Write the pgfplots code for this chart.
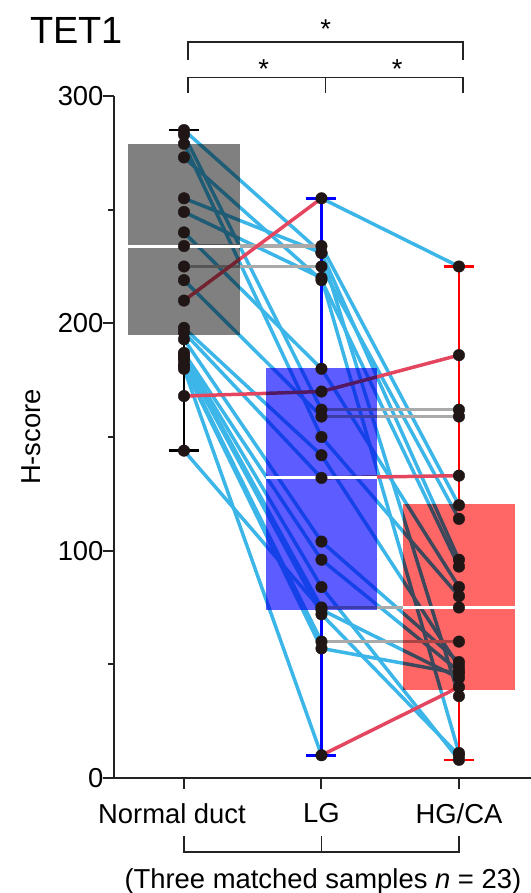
\documentclass[border=0pt]{standalone}
\usepackage{fontspec}
\setmainfont{Liberation Sans}
\usepackage{pgfplots}
\pgfplotsset{compat=1.18}
\definecolor{cdec}{RGB}{60,182,232}
\definecolor{cinc}{RGB}{228,70,96}
\definecolor{cflat}{RGB}{170,170,170}
\definecolor{boxgray}{RGB}{128,128,128}
\definecolor{boxblue}{RGB}{92,92,255}
\definecolor{boxred}{RGB}{255,102,102}
\definecolor{cdot}{RGB}{32,22,22}
\definecolor{axc}{RGB}{35,35,35}
\pgfplotsset{
  seg/.style={line width=3.5pt, no marks, line cap=round},
  sd/.style={seg, color=cdec},
  si/.style={seg, color=cinc},
  sf/.style={seg, color=cflat},
  bx/.style={draw=none, blend mode=multiply},
  wk/.style={line width=2.5pt, no marks},
}
\begin{document}
\begin{tikzpicture}
\begin{axis}[
  scale only axis, width=417bp, height=682bp,
  xmin=-0.509, xmax=2.524, ymin=0, ymax=300,
  axis x line=bottom, axis y line=left,
  axis line style={line width=2pt, -, axc},
  xtick={0,1,2}, xticklabels={{Normal duct\hspace*{24bp}}, LG, HG/CA},
  ytick={0,100,200,300}, minor ytick={50,150,250},
  tick align=outside, major tick length=11bp, minor tick length=6bp,
  every tick/.style={line width=2pt, axc},
  ticklabel style={font=\fontsize{27.5}{32}\selectfont},
  xticklabel style={yshift=-11bp},
  yticklabel style={xshift=4bp},
  /pgf/number format/assume math mode=true,
  ylabel={H-score},
  every axis y label/.style={at={(axis description cs:-0.199,0.5)}, rotate=90, anchor=center, font=\fontsize{27.5}{32}\selectfont},
  clip=false,
]
% decreasing segments
\addplot[sd] coordinates {(1,255) (2,225)};
\addplot[sd] coordinates {(1,234) (2,120)};
\addplot[sd] coordinates {(1,225) (2,114)};
\addplot[sd] coordinates {(0,285) (1,231)};
\addplot[sd] coordinates {(1,231) (2,96)};
\addplot[sd] coordinates {(0,255) (1,231)};
\addplot[sd] coordinates {(1,231) (2,36)};
\addplot[sd] coordinates {(0,249) (1,220)};
\addplot[sd] coordinates {(1,220) (2,11)};
\addplot[sd] coordinates {(0,273) (1,219)};
\addplot[sd] coordinates {(1,219) (2,93)};
\addplot[sd] coordinates {(0,283) (1,162)};
\addplot[sd] coordinates {(0,219) (1,159)};
\addplot[sd] coordinates {(0,240) (1,180)};
\addplot[sd] coordinates {(1,180) (2,84)};
\addplot[sd] coordinates {(0,279) (1,150)};
\addplot[sd] coordinates {(1,150) (2,80)};
\addplot[sd] coordinates {(0,198) (1,142)};
\addplot[sd] coordinates {(1,142) (2,49)};
\addplot[sd] coordinates {(0,196) (1,132)};
\addplot[sd] coordinates {(0,193) (1,104)};
\addplot[sd] coordinates {(1,104) (2,51)};
\addplot[sd] coordinates {(0,187) (1,96)};
\addplot[sd] coordinates {(1,96) (2,47)};
\addplot[sd] coordinates {(0,186) (1,84)};
\addplot[sd] coordinates {(1,84) (2,8)};
\addplot[sd] coordinates {(0,185) (1,75)};
\addplot[sd] coordinates {(0,144) (1,74)};
\addplot[sd] coordinates {(1,74) (2,44)};
\addplot[sd] coordinates {(0,184) (1,72)};
\addplot[sd] coordinates {(1,72) (2,10)};
\addplot[sd] coordinates {(0,182) (1,60)};
\addplot[sd] coordinates {(0,181) (1,57)};
\addplot[sd] coordinates {(1,57) (2,46)};
\addplot[sd] coordinates {(0,180) (1,10)};
% unchanged segments
\addplot[sf] coordinates {(0,234) (1,234)};
\addplot[sf] coordinates {(0,225) (1,225)};
\addplot[sf] coordinates {(1,162) (2,162)};
\addplot[sf] coordinates {(1,159) (2,159)};
\addplot[sf] coordinates {(1,75) (2,75)};
\addplot[sf] coordinates {(1,60) (2,60)};
% increasing segments
\addplot[si] coordinates {(0,210) (1,255)};
\addplot[si] coordinates {(0,168) (1,170)};
\addplot[si] coordinates {(1,170) (2,186)};
\addplot[si] coordinates {(1,132) (2,133)};
\addplot[si] coordinates {(1,10) (2,40)};
% boxes
\addplot[bx, fill=boxgray] coordinates {(-0.407,195) (0.407,195) (0.407,279) (-0.407,279)} -- cycle;
\addplot[bx, fill=boxblue] coordinates {(0.593,74) (1.407,74) (1.407,180.5) (0.593,180.5)} -- cycle;
\addplot[bx, fill=boxred] coordinates {(1.593,38.6) (2.407,38.6) (2.407,120.6) (1.593,120.6)} -- cycle;
% medians
\addplot[white, line width=3pt, no marks] coordinates {(-0.407,234) (0.407,234)};
\addplot[white, line width=3pt, no marks] coordinates {(0.593,132) (1.407,132)};
\addplot[white, line width=3pt, no marks] coordinates {(1.593,75) (2.407,75)};
% whiskers
\addplot[wk, black] coordinates {(0,279) (0,285)};
\addplot[wk, black] coordinates {(0,195) (0,144)};
\addplot[wk, black] coordinates {(-0.109,285) (0.109,285)};
\addplot[wk, black] coordinates {(-0.109,144) (0.109,144)};
\addplot[wk, blue] coordinates {(1,180.5) (1,255)};
\addplot[wk, blue] coordinates {(1,74) (1,10)};
\addplot[wk, blue] coordinates {(0.891,255) (1.109,255)};
\addplot[wk, blue] coordinates {(0.891,10) (1.109,10)};
\addplot[wk, red] coordinates {(2,120.6) (2,225)};
\addplot[wk, red] coordinates {(2,38.6) (2,8)};
\addplot[wk, red] coordinates {(1.891,225) (2.109,225)};
\addplot[wk, red] coordinates {(1.891,8) (2.109,8)};
% dots
\addplot[only marks, mark=*, mark size=5.8pt, color=cdot] coordinates {
(0,285) (0,283) (0,279) (0,273) (0,255) (0,249) (0,240) (0,234) (0,225) (0,219) (0,210) (0,198)
(0,196) (0,193) (0,187) (0,186) (0,185) (0,184) (0,182) (0,181) (0,180) (0,168) (0,144)};
\addplot[only marks, mark=*, mark size=5.8pt, color=cdot] coordinates {
(1,255) (1,234) (1,231) (1,231) (1,225) (1,220) (1,219) (1,180) (1,170) (1,162) (1,159) (1,150)
(1,142) (1,132) (1,104) (1,96) (1,84) (1,75) (1,74) (1,72) (1,60) (1,57) (1,10)};
\addplot[only marks, mark=*, mark size=5.8pt, color=cdot] coordinates {
(2,225) (2,186) (2,162) (2,159) (2,133) (2,120) (2,114) (2,96) (2,93) (2,84) (2,80) (2,75)
(2,60) (2,51) (2,49) (2,47) (2,46) (2,44) (2,40) (2,36) (2,11) (2,10) (2,8)};
% annotations
\node[anchor=base west, inner sep=0pt, font=\fontsize{38}{42}\selectfont] at (axis cs:-1.12,323.3) {TET1};
\draw[line width=1.8pt, axc] (axis cs:0.03,315.9) |- (axis cs:2.03,323.8) -- (axis cs:2.03,315.9);
\draw[line width=1.8pt, axc] (axis cs:0.03,301.5) |- (axis cs:2.03,308.1) -- (axis cs:2.03,301.5);
\draw[line width=1.8pt, axc] (axis cs:1.03,301.5) -- (axis cs:1.03,308.1);
\node[font=\fontsize{27.5}{32}\selectfont, inner sep=0pt] at (axis cs:1.03,329.5) {*};
\node[font=\fontsize{27.5}{32}\selectfont, inner sep=0pt] at (axis cs:0.58,311.9) {*};
\node[font=\fontsize{27.5}{32}\selectfont, inner sep=0pt] at (axis cs:1.55,311.9) {*};
\draw[line width=1.8pt, axc] (axis cs:0,-25.6) |- (axis cs:2,-32.6) -- (axis cs:2,-25.6);
\draw[line width=1.8pt, axc] (axis cs:1,-25.6) -- (axis cs:1,-32.6);
\node[anchor=base, inner sep=0pt, font=\fontsize{27.5}{32}\selectfont] at (axis cs:1.01,-48.6) {(Three matched samples \textit{n} = 23)};
\end{axis}
\pgfresetboundingbox
\path[use as bounding box] ([shift={(-114bp,-115bp)}]current axis.south west) rectangle ++(531bp,893bp);
\end{tikzpicture}
\end{document}
